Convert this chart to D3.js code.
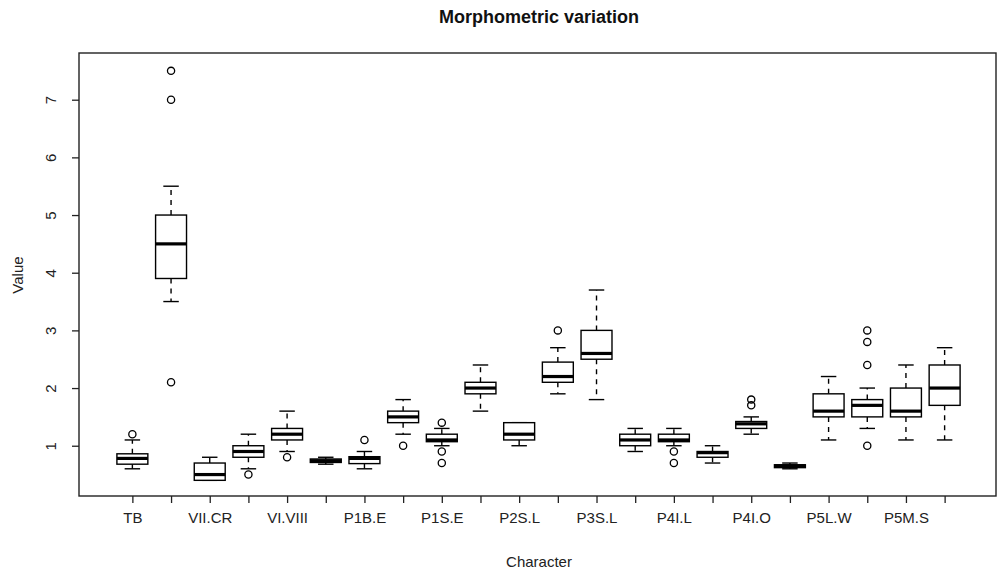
<!DOCTYPE html>
<html>
<head>
<meta charset="utf-8">
<script src="https://cdn.jsdelivr.net/npm/d3@7"></script>
<style>
  html, body { margin: 0; padding: 0; background: #fff; }
  svg { display: block; font-family: "Liberation Sans", Arial, Helvetica, sans-serif; }
</style>
</head>
<body>
<svg id="chart" width="997" height="571"></svg>
<script>
// ---- data ----
const categories = ["TB", "TL", "VII.CR", "VII.L", "VI.VIII", "VI.L", "P1B.E", "P1B.L",
  "P1S.E", "P1S.L", "P2S.L", "P2S.E", "P3S.L", "P3S.E", "P4I.L", "P4I.E",
  "P4I.O", "P4I.W", "P5L.W", "P5L.L", "P5M.S", "P5M.L"];
const lowerWhisker = [0.6, 3.5, 0.4, 0.6, 0.9, 0.68, 0.6, 1.2, 1.0, 1.6, 1.0, 1.9, 1.8, 0.9, 1.0, 0.7, 1.2, 0.6, 1.1, 1.3, 1.1, 1.1];
const q1 =           [0.68, 3.9, 0.4, 0.8, 1.1, 0.71, 0.69, 1.4, 1.07, 1.9, 1.1, 2.1, 2.5, 1.0, 1.07, 0.8, 1.3, 0.62, 1.5, 1.5, 1.5, 1.7];
const medians =      [0.78, 4.5, 0.5, 0.9, 1.2, 0.74, 0.78, 1.5, 1.1, 2.0, 1.2, 2.2, 2.6, 1.1, 1.1, 0.88, 1.38, 0.65, 1.6, 1.7, 1.6, 2.0];
const q3 =           [0.86, 5.0, 0.7, 1.0, 1.3, 0.77, 0.81, 1.6, 1.2, 2.1, 1.4, 2.45, 3.0, 1.2, 1.2, 0.9, 1.42, 0.67, 1.9, 1.8, 2.0, 2.4];
const upperWhisker = [1.1, 5.5, 0.8, 1.2, 1.6, 0.8, 0.9, 1.8, 1.3, 2.4, 1.4, 2.7, 3.7, 1.3, 1.3, 1.0, 1.5, 0.7, 2.2, 2.0, 2.4, 2.7];
const outliers = [[1.2], [7.5, 7.0, 2.1], [], [0.5], [0.8], [], [1.1], [1.0],
  [1.4, 0.9, 0.7], [], [], [3.0], [], [], [0.9, 0.7], [], [1.8, 1.7], [],
  [], [3.0, 2.8, 2.4, 1.0], [], []];
const yTicks = [1, 2, 3, 4, 5, 6, 7];
const title = "Morphometric variation";
const xTitle = "Character";
const yTitle = "Value";

// ---- layout ----
const svg = d3.select("#chart");
const plot = { left: 79, top: 53, right: 996, bottom: 496 };
const n = categories.length;

const x = d3.scaleLinear().domain([-0.38, n + 1.38]).range([plot.left, plot.right + 2]);
const y = d3.scaleLinear().domain([0, 7]).range([503.4, 99.7]);
const unit = x(2) - x(1);
const boxW = unit * 0.8;
const capW = boxW * 0.5;

const boxes = categories.map((c, i) => ({
  name: c, pos: i + 1, lo: lowerWhisker[i], q1: q1[i], med: medians[i],
  q3: q3[i], hi: upperWhisker[i], out: outliers[i]
}));

const g = svg.append("g");

const bg = g.selectAll("g.box").data(boxes).join("g").attr("class", "box");
// whiskers (dashed)
bg.append("line")
  .attr("x1", d => x(d.pos)).attr("x2", d => x(d.pos))
  .attr("y1", d => y(d.q3)).attr("y2", d => y(d.hi))
  .attr("stroke", "#000").attr("stroke-width", 1.4).attr("stroke-dasharray", "5,5");
bg.append("line")
  .attr("x1", d => x(d.pos)).attr("x2", d => x(d.pos))
  .attr("y1", d => y(d.q1)).attr("y2", d => y(d.lo))
  .attr("stroke", "#000").attr("stroke-width", 1.4).attr("stroke-dasharray", "5,5");
// caps
bg.append("line")
  .attr("x1", d => x(d.pos) - capW / 2).attr("x2", d => x(d.pos) + capW / 2)
  .attr("y1", d => y(d.hi)).attr("y2", d => y(d.hi))
  .attr("stroke", "#000").attr("stroke-width", 1.4);
bg.append("line")
  .attr("x1", d => x(d.pos) - capW / 2).attr("x2", d => x(d.pos) + capW / 2)
  .attr("y1", d => y(d.lo)).attr("y2", d => y(d.lo))
  .attr("stroke", "#000").attr("stroke-width", 1.4);
// box
bg.append("rect")
  .attr("x", d => x(d.pos) - boxW / 2).attr("width", boxW)
  .attr("y", d => y(d.q3)).attr("height", d => y(d.q1) - y(d.q3))
  .attr("fill", "#fff").attr("stroke", "#000").attr("stroke-width", 1.4);
// median
bg.append("line")
  .attr("x1", d => x(d.pos) - boxW / 2).attr("x2", d => x(d.pos) + boxW / 2)
  .attr("y1", d => y(d.med)).attr("y2", d => y(d.med))
  .attr("stroke", "#000").attr("stroke-width", 3.2);
// outliers
bg.selectAll("circle").data(d => d.out.map(v => ({ pos: d.pos, v }))).join("circle")
  .attr("cx", d => x(d.pos)).attr("cy", d => y(d.v)).attr("r", 3.6)
  .attr("fill", "none").attr("stroke", "#000").attr("stroke-width", 1.3);

// frame
svg.append("rect")
  .attr("x", plot.left).attr("y", plot.top)
  .attr("width", plot.right - plot.left).attr("height", plot.bottom - plot.top)
  .attr("fill", "none").attr("stroke", "#222").attr("stroke-width", 1.4);

// y axis
const yAxis = d3.axisLeft(y).tickValues(yTicks).tickSize(7).tickPadding(4).tickFormat(d3.format("d"));
const ya = svg.append("g").attr("transform", `translate(${plot.left},0)`).call(yAxis);
ya.select(".domain").remove();
ya.selectAll(".tick line").attr("stroke", "#222").attr("stroke-width", 1.3);
ya.selectAll(".tick text")
  .attr("x", null).attr("dy", null)
  .attr("text-anchor", "middle")
  .attr("transform", "translate(-23,0) rotate(-90)")
  .attr("font-size", 15).attr("fill", "#222");

// x axis
const xAxis = d3.axisBottom(x).tickValues(boxes.map(d => d.pos)).tickSize(7)
  .tickFormat(d => (d % 2 === 1 ? categories[d - 1] : ""));
const xa = svg.append("g").attr("transform", `translate(0,${plot.bottom})`).call(xAxis);
xa.select(".domain").remove();
xa.selectAll(".tick line").attr("stroke", "#222").attr("stroke-width", 1.3);
xa.selectAll(".tick text").attr("y", 27).attr("dy", null)
  .attr("font-size", 15).attr("fill", "#222");

// titles
svg.append("text").attr("x", 539).attr("y", 23).attr("text-anchor", "middle")
  .attr("font-size", 18).attr("font-weight", "bold").attr("fill", "#111").text(title);
svg.append("text").attr("x", 539).attr("y", 567).attr("text-anchor", "middle")
  .attr("font-size", 15).attr("fill", "#222").text(xTitle);
svg.append("text").attr("transform", "translate(23,275) rotate(-90)").attr("text-anchor", "middle")
  .attr("font-size", 15).attr("fill", "#222").text(yTitle);
</script>
</body>
</html>
